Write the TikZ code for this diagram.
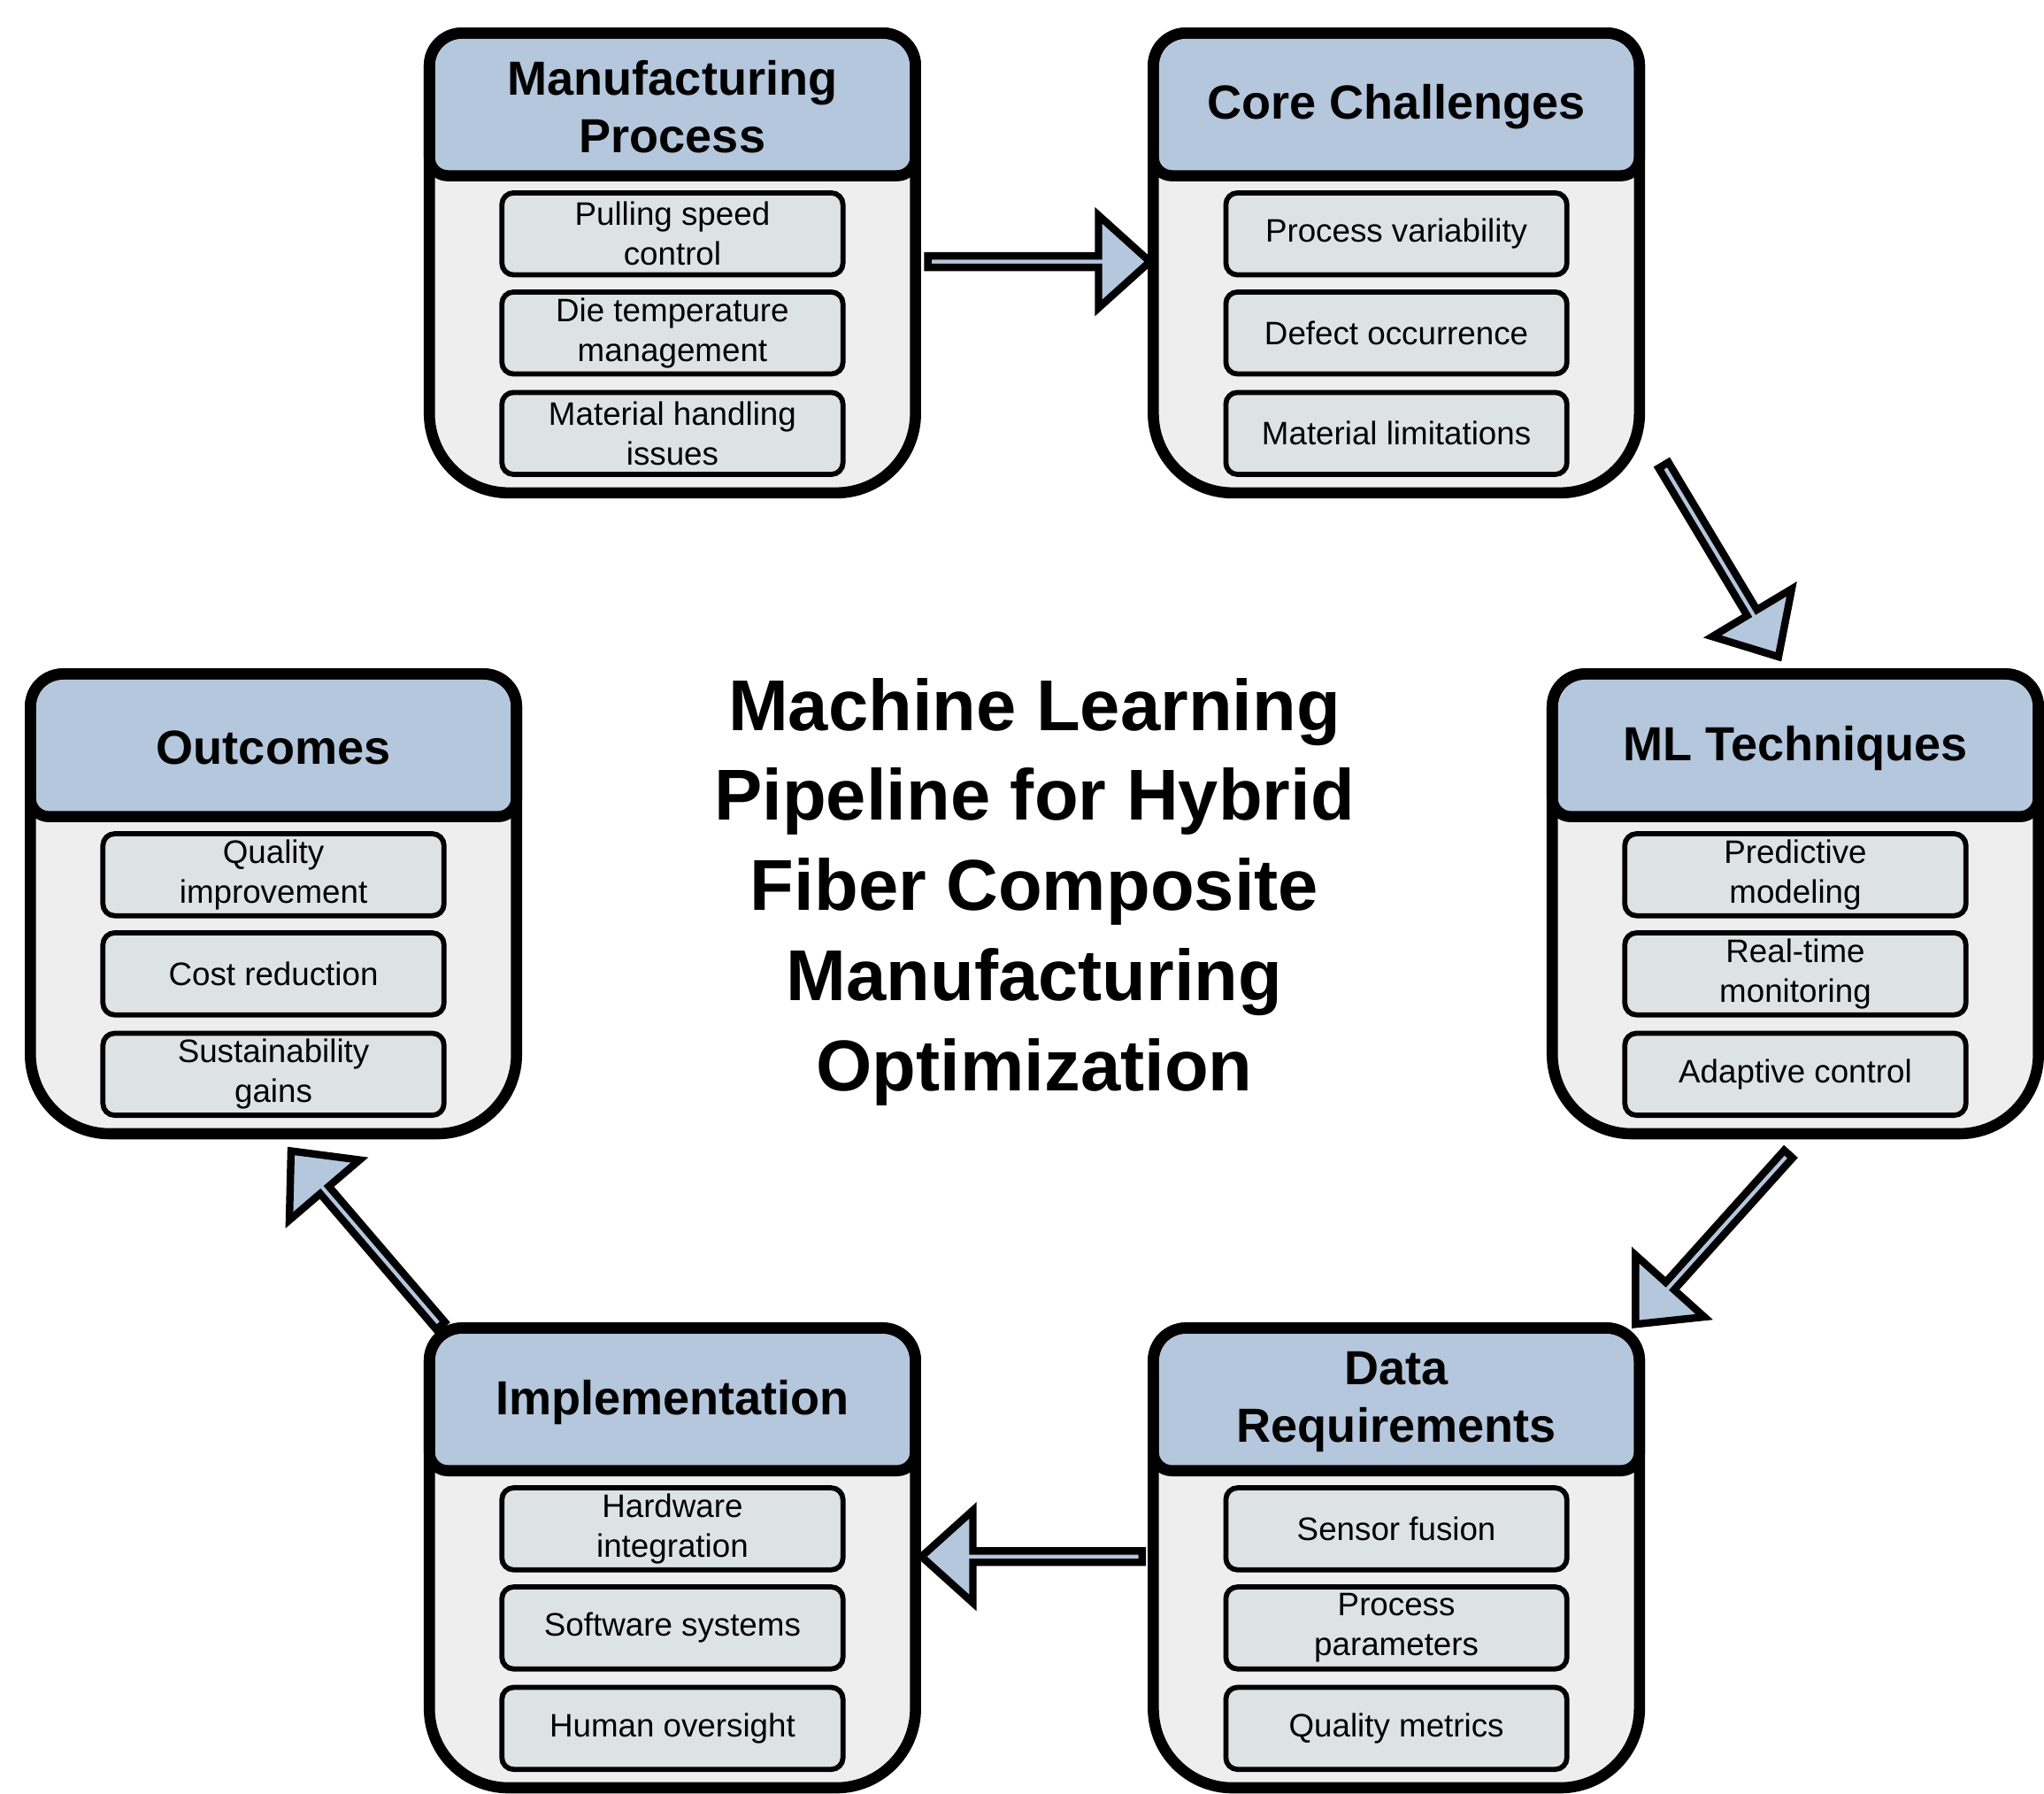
\documentclass[tikz,border=0pt]{standalone}
\usepackage{fontspec}
\setmainfont{Liberation Sans}
\usetikzlibrary{shapes.arrows}
\definecolor{hdr}{HTML}{B4C7DC}
\definecolor{pnl}{HTML}{EEEEEE}
\definecolor{itm}{HTML}{DDE3E3}
\tikzset{
  outl/.style={line width=2.4pt,line join=round},
  item/.style={draw,fill=itm,line width=1.1pt,rounded corners=2.5pt,minimum width=2.58cm,minimum height=0.62cm,inner sep=0pt,align=center,font=\fontsize{7}{8.6}\selectfont},
  head/.style={align=center,font=\bfseries\fontsize{10.3}{12.3}\selectfont},
  arr/.style={single arrow,draw,fill=hdr,line width=1.6pt,inner sep=0pt,minimum width=0.7cm,single arrow head extend=0.2cm,single arrow tip angle=84,midway,sloped,allow upside down,line join=miter}
}
\newcommand\panelshape[4]{% X Y H rbottom
  (#1,{#2+25}) .. controls (#1,{#2+11}) and ({#1+11},#2) .. ({#1+25},#2)
  -- ({#1+343},#2) .. controls ({#1+357},#2) and ({#1+368},{#2+11}) .. ({#1+368},{#2+25})
  -- ({#1+368},{#2+#3-#4}) .. controls ({#1+368},{#2+#3-0.448*#4}) and ({#1+368-0.448*#4},{#2+#3}) .. ({#1+368-#4},{#2+#3})
  -- ({#1+#4},{#2+#3}) .. controls ({#1+0.448*#4},{#2+#3}) and (#1,{#2+#3-0.448*#4}) .. (#1,{#2+#3-#4}) -- cycle}
\newcommand\mypanel[8]{% name X Y header i1 i2 i3
  \fill[pnl] \panelshape{#2}{#3}{348}{60};
  \draw[outl,fill=hdr] \panelshape{#2}{#3}{108}{14};
  \draw[outl] \panelshape{#2}{#3}{348}{60};
  \node[head] (#1) at ({#2+184},{#3+56}) {#4};
  \node[item] (#1-1) at ({#2+184},{#3+152}) {#5};
  \node[item] (#1-2) at ({#2+184},{#3+227}) {#6};
  \node[item] (#1-3) at ({#2+184},{#3+303}) {#7};
}
\begin{document}
\begin{tikzpicture}[x=0.01cm,y=-0.01cm]
\fill[white] (0,0) rectangle (1547,1357);
\mypanel{mp}{325}{25}{Manufacturing\\Process}{Pulling speed\\control}{Die temperature\\management}{Material handling\\issues}{}
\mypanel{cc}{873}{25}{Core Challenges}{Process variability}{Defect occurrence}{Material limitations}{}
\mypanel{ml}{1175}{510}{ML Techniques}{Predictive\\modeling}{Real-time\\monitoring}{Adaptive control}{}
\mypanel{dr}{873}{1005}{Data\\Requirements}{Sensor fusion}{Process\\parameters}{Quality metrics}{}
\mypanel{im}{325}{1005}{Implementation}{Hardware\\integration}{Software systems}{Human oversight}{}
\mypanel{oc}{23}{510}{Outcomes}{Quality\\improvement}{Cost reduction}{Sustainability\\gains}{}
\node[align=center,font=\bfseries\fontsize{15.5}{19.4}\selectfont] (title) at (783,675) {Machine Learning\\Pipeline for Hybrid\\Fiber Composite\\Manufacturing\\Optimization};
\coordinate (a1s) at (700,198); \coordinate (a1e) at (868,198);
\coordinate (a2s) at (1258,350); \coordinate (a2e) at (1345,495);
\coordinate (a3s) at (1355,872); \coordinate (a3e) at (1240,1000);
\coordinate (a4s) at (867,1178); \coordinate (a4e) at (700,1178);
\coordinate (a5s) at (335,1005); \coordinate (a5e) at (222,873);
\path (a1s) -- (a1e) node[arr,minimum height=1.68cm]{};
\path (a2s) -- (a2e) node[arr,minimum height=1.69cm]{};
\path (a3s) -- (a3e) node[arr,minimum height=1.73cm]{};
\path (a4s) -- (a4e) node[arr,minimum height=1.67cm]{};
\path (a5s) -- (a5e) node[arr,minimum height=1.74cm]{};
\end{tikzpicture}
\end{document}
